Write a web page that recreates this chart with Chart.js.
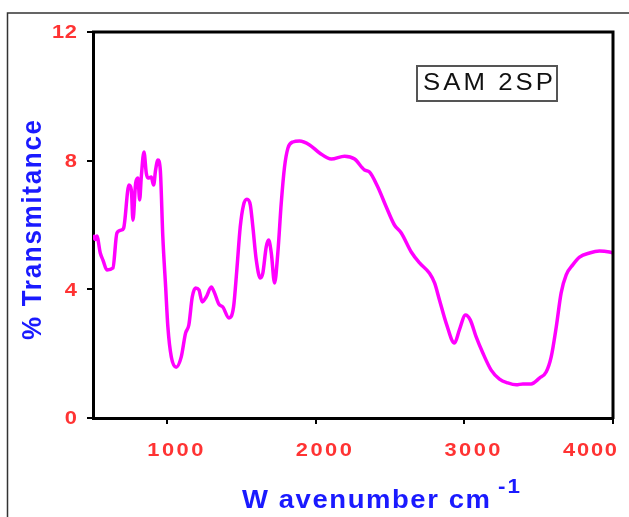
<!DOCTYPE html>
<html><head><meta charset="utf-8">
<script src="https://cdn.jsdelivr.net/npm/chart.js@4"></script>
<style>html,body{margin:0;padding:0;background:#fff}#c{display:block}</style>
</head><body>
<canvas id="c" width="629" height="517"></canvas>
<script>
const wavenumbers = [500,515,526,549,567,594,634,661,690,706,742,758,769,787,802,814,825,843,859,870,892,908,921,937,953,970,989,1004,1027,1060,1094,1123,1145,1168,1190,1213,1235,1262,1296,1318,1347,1374,1415,1446,1468,1491,1513,1536,1559,1576,1599,1626,1643,1666,1682,1700,1722,1744,1767,1789,1812,1845,1890,1958,2025,2104,2193,2261,2328,2361,2417,2474,2529,2575,2642,2698,2765,2799,2832,2877,2933,2966,3007,3039,3079,3124,3180,3236,3292,3349,3393,3449,3505,3550,3584,3618,3651,3685,3729,3775,3842,3909,3976,4000];
const transmittance = [5.69,5.55,5.66,5.13,4.91,4.6,4.66,5.75,5.84,5.9,7.24,7.09,6.15,7.3,7.46,6.78,7.49,8.27,7.6,7.46,7.49,7.24,7.7,8.02,7.71,5.63,4.07,2.83,1.9,1.58,1.9,2.64,2.89,3.76,4.04,3.98,3.61,3.76,4.07,3.89,3.54,3.45,3.11,3.45,4.6,5.94,6.62,6.8,6.62,5.94,4.91,4.35,4.5,5.32,5.53,5.13,4.2,5.13,6.68,7.8,8.39,8.58,8.61,8.49,8.24,8.05,8.14,8.05,7.71,7.65,7.18,6.56,6.0,5.75,5.16,4.82,4.5,4.2,3.67,2.95,2.33,2.74,3.2,3.05,2.52,2.02,1.49,1.21,1.09,1.03,1.06,1.06,1.24,1.43,1.9,2.83,3.89,4.45,4.76,5.0,5.13,5.19,5.16,5.13];
const xTickValues = [1000,2000,3000,4000];
const yTickValues = [0,4,8,12];
const seriesLabel = 'SAM 2SP';
const xTitle = 'W avenumber cm';
const xTitleSup = '-1';
const yTitle = '% Transmitance';

const points = wavenumbers.map((w,i)=>({x:w, y:transmittance[i]}));
const RED = '#ff3333', BLUE = '#1a1aff', FONT = '"Liberation Sans", Arial, sans-serif';

// draw text horizontally stretched by sx, optionally fitted to a visual width
function drawText(ctx, text, x, y, align, sx, target){
  ctx.save(); ctx.translate(x, y); ctx.scale(sx, 1);
  ctx.letterSpacing = '0px';
  const w = ctx.measureText(text).width, n = text.length;
  let ls = 0;
  if (target && n > 1) ls = (target / sx - w) / (n - 1);
  ctx.letterSpacing = ls + 'px';
  const vis = w + ls * (n - 1);
  const ox = align === 'center' ? -vis / 2 : align === 'right' ? -vis : 0;
  ctx.textAlign = 'left';
  ctx.fillText(text, ox, 0);
  ctx.restore();
}

const decor = {
  id:'decor',
  beforeDraw(chart){
    const ctx = chart.ctx;
    ctx.save(); ctx.fillStyle='#fff'; ctx.fillRect(0,0,chart.width,chart.height); ctx.restore();
  },
  afterDraw(chart){
    const ctx = chart.ctx, a = chart.chartArea, xs = chart.scales.x, ys = chart.scales.y;
    ctx.save();
    // outer frame
    ctx.strokeStyle='#333'; ctx.lineWidth=1.5;
    ctx.beginPath(); ctx.moveTo(7.5,520); ctx.lineTo(7.5,13); ctx.lineTo(640,13); ctx.stroke();
    // plot box top & right
    ctx.strokeStyle='#000'; ctx.lineWidth=3;
    ctx.beginPath(); ctx.moveTo(a.left-1, a.top); ctx.lineTo(a.right, a.top); ctx.lineTo(a.right, a.bottom+1); ctx.stroke();
    // tick labels
    ctx.font = 'bold 19px '+FONT; ctx.fillStyle = RED; ctx.textBaseline='middle';
    xTickValues.forEach((v,i)=>{
      const px = xs.getPixelForValue(v), t = String(v);
      if (i === xTickValues.length-1) drawText(ctx, t, px+4, 451, 'right', 1.15, 54);
      else drawText(ctx, t, px+8, 451, 'center', 1.15, 56);
    });
    yTickValues.forEach(v=>{
      const py = ys.getPixelForValue(v), t = String(v);
      drawText(ctx, t, 77, py+1, 'right', 1.15, t.length > 1 ? 25 : 0);
    });
    // x title
    ctx.fillStyle = BLUE; ctx.textBaseline='alphabetic';
    ctx.font = 'bold 25px '+FONT;
    drawText(ctx, xTitle, 242, 508, 'left', 1.1, 248);
    ctx.font = 'bold 20px '+FONT;
    drawText(ctx, xTitleSup, 498, 493, 'left', 1.12, 22);
    // y title
    ctx.save(); ctx.translate(41, 230); ctx.rotate(-Math.PI/2);
    ctx.font = 'bold 26px '+FONT;
    ctx.scale(1, 1.05);
    drawText(ctx, yTitle, 0, 0, 'center', 1, 220);
    ctx.restore();
    // legend box
    ctx.strokeStyle='#555'; ctx.lineWidth=2;
    ctx.strokeRect(417, 66, 140, 35);
    ctx.fillStyle='#111'; ctx.font = '23px '+FONT; ctx.textBaseline='middle';
    drawText(ctx, seriesLabel, 423, 84, 'left', 1.12, 130);
    ctx.restore();
  }
};

new Chart(document.getElementById('c'), {
  type:'line',
  data:{ datasets:[{ label:seriesLabel, data:points, borderColor:'#ff00ff', borderWidth:3.5,
    pointRadius:0, fill:false, cubicInterpolationMode:'monotone' }]},
  options:{
    responsive:false, animation:false, devicePixelRatio:1,
    layout:{ padding:{ top:32, right:16, left:0, bottom:0 } },
    plugins:{ legend:{display:false}, tooltip:{enabled:false} },
    scales:{
      x:{ type:'linear', min:500, max:4000,
        afterBuildTicks:s=>{ s.ticks = xTickValues.map(v=>({value:v})); },
        ticks:{ display:false },
        grid:{ drawOnChartArea:false, drawTicks:true, tickLength:6, color:'#000', lineWidth:2 },
        border:{ color:'#000', width:3 },
        afterFit:s=>{ s.height = 99; } },
      y:{ min:0, max:12,
        afterBuildTicks:s=>{ s.ticks = yTickValues.map(v=>({value:v})); },
        ticks:{ display:false },
        grid:{ drawOnChartArea:false, drawTicks:true, tickLength:6, color:'#000', lineWidth:2 },
        border:{ color:'#000', width:3 },
        afterFit:s=>{ s.width = 93; } }
    }
  },
  plugins:[decor]
});
</script>
</body></html>
